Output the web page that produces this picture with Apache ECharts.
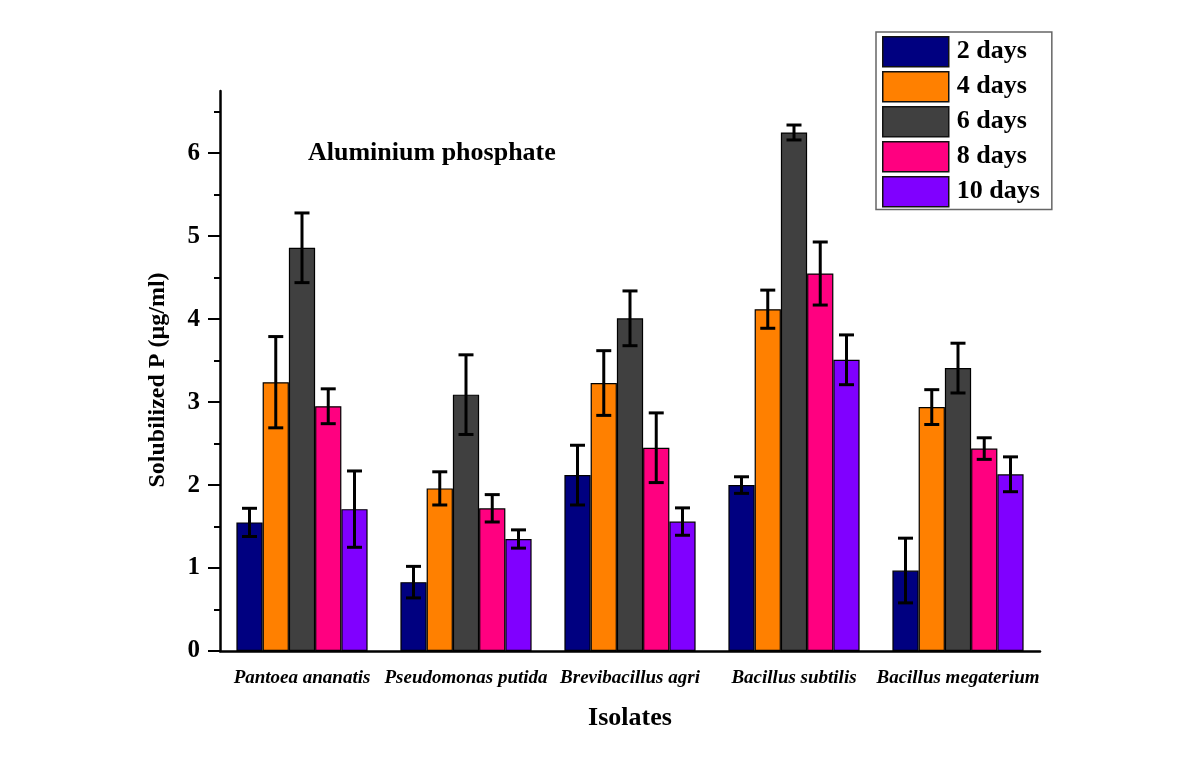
<!DOCTYPE html>
<html>
<head>
<meta charset="utf-8">
<script src="https://cdn.jsdelivr.net/npm/echarts@6/dist/echarts.min.js"></script>
<style>
html,body{margin:0;padding:0;background:#fff;}
#chart{width:1193px;height:768px;}
</style>
</head>
<body>
<div id="chart"></div>
<script>
const categories = ['Pantoea ananatis','Pseudomonas putida','Brevibacillus agri','Bacillus subtilis','Bacillus megaterium'];
const seriesNames = ['2 days','4 days','6 days','8 days','10 days'];
const day2  = [1.55, 0.83, 2.12, 2.00, 0.97];
const day4  = [3.24, 1.96, 3.23, 4.12, 2.94];
const day6  = [4.86, 3.09, 4.01, 6.25, 3.41];
const day8  = [2.95, 1.72, 2.45, 4.55, 2.44];
const day10 = [1.71, 1.35, 1.56, 3.51, 2.13];
const err2  = [0.17, 0.19, 0.36, 0.10, 0.39];
const err4  = [0.55, 0.20, 0.39, 0.23, 0.21];
const err6  = [0.42, 0.48, 0.33, 0.09, 0.30];
const err8  = [0.21, 0.165, 0.42, 0.38, 0.13];
const err10 = [0.46, 0.11, 0.165, 0.30, 0.21];
const yMajorTicks = [0,1,2,3,4,5,6];
const yMinorTicks = [0.5,1.5,2.5,3.5,4.5,5.5,6.5];

const values = [day2, day4, day6, day8, day10];
const errors = [err2, err4, err6, err8, err10];
const colors = ['#000080','#FF8000','#404040','#FF0080','#8000FF'];
const NB = 5, CAT_GAP = 0.2;

const series = [];
values.forEach((v, i) => {
  series.push({
    name: seriesNames[i], type: 'bar', data: v,
    barGap: '0%', barCategoryGap: (CAT_GAP*100)+'%',
    itemStyle: {color: colors[i], borderColor: '#000', borderWidth: 1.2},
    emphasis: {disabled: true}
  });
});
values.forEach((v, i) => {
  series.push({
    type: 'custom',
    z: 10,
    data: v.map((val, k) => [k, val, errors[i][k]]),
    renderItem: function (params, api) {
      const k = api.value(0), y = api.value(1), e = api.value(2);
      const hi = api.coord([k, y + e]);
      const lo = api.coord([k, y - e]);
      const band = api.size([1, 0])[0];
      const bw = band * (1 - CAT_GAP) / NB;
      const cx = hi[0] + (i - (NB - 1) / 2) * bw;
      const cap = 7.5;
      const st = {stroke: '#000', lineWidth: 3};
      return {type: 'group', children: [
        {type: 'line', shape: {x1: cx, y1: hi[1], x2: cx, y2: lo[1]}, style: st},
        {type: 'line', shape: {x1: cx - cap, y1: hi[1], x2: cx + cap, y2: hi[1]}, style: st},
        {type: 'line', shape: {x1: cx - cap, y1: lo[1], x2: cx + cap, y2: lo[1]}, style: st}
      ]};
    }
  });
});

const serif = '"Liberation Serif","Times New Roman",serif';
const chart = echarts.init(document.getElementById('chart'));
chart.setOption({
  backgroundColor: '#fff',
  animation: false,
  title: {
    text: 'Aluminium phosphate', left: 303, top: 135,
    textStyle: {fontFamily: serif, fontWeight: 'bold', fontSize: 26, color: '#000'}
  },
  legend: {
    data: seriesNames.map(n => ({name: n, icon: 'rect'})), orient: 'vertical', left: 876, top: 32,
    itemWidth: 66, itemHeight: 30, itemGap: 3.5,
    padding: [4, 12, 2, 6],
    borderColor: '#666', borderWidth: 1.5,
    itemStyle: {borderColor: '#111', borderWidth: 1.5},
    textStyle: {fontFamily: serif, fontWeight: 'bold', fontSize: 26, lineHeight: 30, color: '#000', padding: [0, 0, 0, 3]},
    selectedMode: false
  },
  grid: {left: 220, right: 153, top: 91, bottom: 117, containLabel: false},
  xAxis: {
    type: 'category', data: categories,
    name: 'Isolates', nameLocation: 'middle', nameGap: 54,
    nameTextStyle: {fontFamily: serif, fontWeight: 'bold', fontSize: 26, color: '#000'},
    axisLine: {lineStyle: {color: '#000', width: 2.5}},
    axisTick: {alignWithLabel: true, length: 8, lineStyle: {color: '#000', width: 2.5}},
    axisLabel: {interval: 0, margin: 18, fontFamily: serif, fontWeight: 'bold', fontStyle: 'italic', fontSize: 19, color: '#000'},
    splitLine: {show: false}
  },
  yAxis: [{
    type: 'value', min: 0, max: 6.75,
    name: 'Solubilized P (µg/ml)', nameLocation: 'middle', nameGap: 50,
    nameTextStyle: {fontFamily: serif, fontWeight: 'bold', fontSize: 24, color: '#000', padding: [0, 18, 0, 0]},
    axisLine: {show: true, lineStyle: {color: '#000', width: 2.5}},
    axisTick: {show: true, length: 12, customValues: yMajorTicks, lineStyle: {color: '#000', width: 2}},
    axisLabel: {customValues: yMajorTicks, margin: 20, fontFamily: serif, fontWeight: 'bold', fontSize: 25, color: '#000'},
    splitLine: {show: false}
  }, {
    type: 'value', min: 0, max: 6.75, position: 'left',
    axisLine: {show: false},
    axisTick: {show: true, length: 6, customValues: yMinorTicks, lineStyle: {color: '#000', width: 2}},
    axisLabel: {show: false},
    splitLine: {show: false}
  }],
  series: series
});
</script>
</body>
</html>
